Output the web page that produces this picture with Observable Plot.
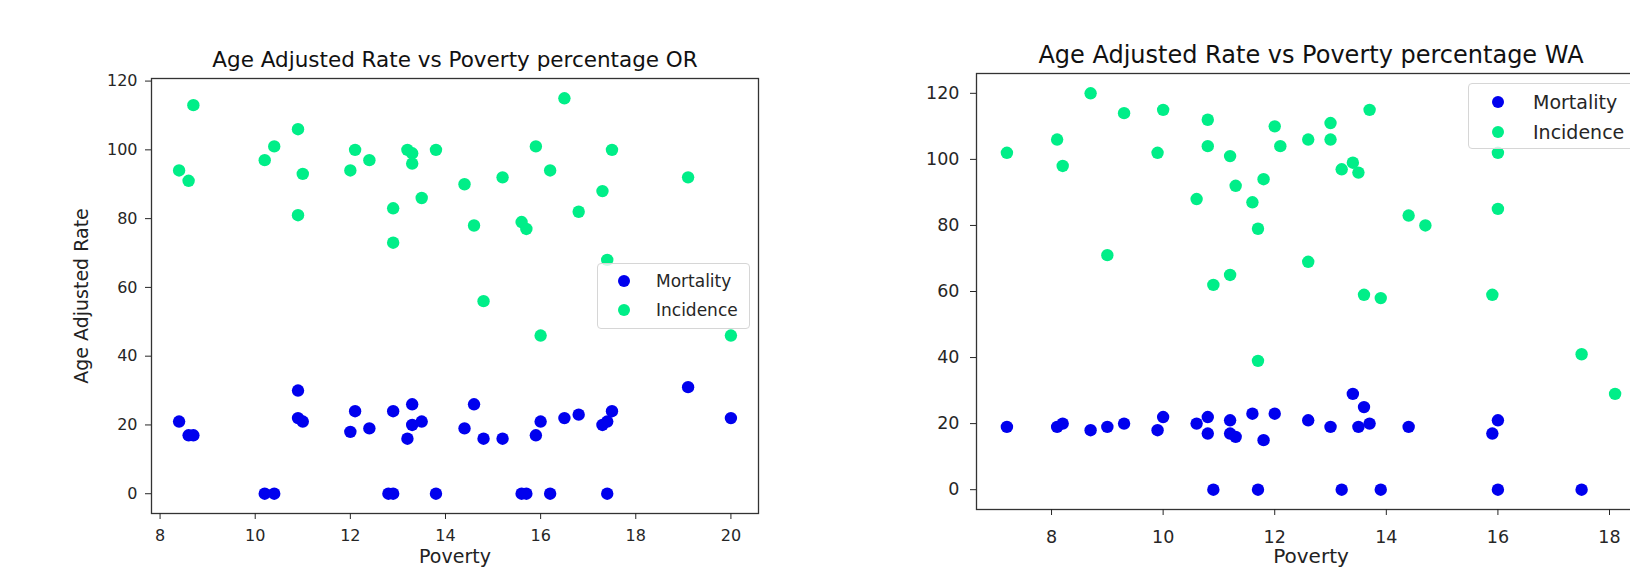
<!DOCTYPE html>
<html><head><meta charset="utf-8">
<script src="https://cdn.jsdelivr.net/npm/d3@7"></script>
<script src="https://cdn.jsdelivr.net/npm/@observablehq/plot@0.6"></script>
<style>
html,body{margin:0;padding:0;background:#fff;overflow:hidden;width:1630px;height:568px;}
#wrap{position:relative;width:1700px;height:568px;overflow:hidden;}
.panel{position:absolute;top:0;}
.legend{position:absolute;border:1px solid #d6d6d6;border-radius:4px;background:rgba(255,255,255,0.8);font-family:"DejaVu Sans",sans-serif;color:#262626;box-sizing:border-box;}
.legend .lab{position:absolute;white-space:nowrap;line-height:1;transform:translateY(-50%);}
.legend .sw{position:absolute;border-radius:50%;transform:translate(-50%,-50%);}
</style></head>
<body><div id="wrap"></div>
<script>
// ---------- data ----------
const seriesNames = ["Mortality", "Incidence"];
const seriesColors = ["#0000ee", "#00ee88"];

// Oregon
const orMortX = [8.4,8.6,8.7,10.2,10.4,10.9,10.9,11.0,12.0,12.1,12.4,12.8,12.9,12.9,13.2,13.3,13.3,13.5,13.8,14.4,14.6,14.8,15.2,15.6,15.7,15.9,16.0,16.2,16.5,16.8,17.3,17.4,17.5,17.4,19.1,20.0];
const orMortY = [21,17,17,0,0,30,22,21,18,24,19,0,0,24,16,26,20,21,0,19,26,16,16,0,0,17,21,0,22,23,20,21,24,0,31,22];
const orIncX = [8.4,8.6,8.7,10.2,10.4,10.9,10.9,11.0,12.0,12.1,12.4,12.9,12.9,13.2,13.3,13.3,13.5,13.8,14.4,14.6,14.8,15.2,15.6,15.7,15.9,16.0,16.2,16.5,16.8,17.3,17.4,17.5,19.1,20.0];
const orIncY = [94,91,113,97,101,106,81,93,94,100,97,83,73,100,99,96,86,100,90,78,56,92,79,77,101,46,94,115,82,88,68,100,92,46];

// Washington
const waMortX = [7.2,8.1,8.2,8.7,9.0,9.3,9.9,10.0,10.6,10.8,10.8,10.9,11.2,11.2,11.3,11.6,11.7,11.8,12.0,12.6,13.0,13.2,13.4,13.5,13.6,13.7,13.9,14.4,15.9,16.0,16.0,17.5];
const waMortY = [19,19,20,18,19,20,18,22,20,22,17,0,21,17,16,23,0,15,23,21,19,0,29,19,25,20,0,19,17,21,0,0];
const waIncX = [7.2,8.1,8.2,8.7,9.0,9.3,9.9,10.0,10.6,10.8,10.8,10.9,11.2,11.2,11.3,11.6,11.7,11.7,11.8,12.0,12.1,12.6,12.6,13.0,13.0,13.2,13.4,13.5,13.6,13.7,13.9,14.4,14.7,15.9,16.0,16.0,17.5,18.1];
const waIncY = [102,106,98,120,71,114,102,115,88,112,104,62,101,65,92,87,79,39,94,110,104,106,69,111,106,97,99,96,59,115,58,83,80,59,102,85,41,29];

const orXTicks = [8,10,12,14,16,18,20];
const waXTicks = [8,10,12,14,16,18];
const yTicks = [0,20,40,60,80,100,120];

const titles = ["Age Adjusted Rate vs Poverty percentage OR", "Age Adjusted Rate vs Poverty percentage WA"];
const xLabel = "Poverty";
const yLabel = "Age Adjusted Rate";

// ---------- build ----------
const zip = (xs, ys) => xs.map((x, i) => ({x, y: ys[i]}));

function panel(o) {
  const marks = [
    Plot.dot(zip(o.mx, o.my), {x: "x", y: "y", r: 6.2, fill: seriesColors[0]}),
    Plot.dot(zip(o.ix, o.iy), {x: "x", y: "y", r: 6.2, fill: seriesColors[1]}),
    Plot.frame({stroke: "#333", strokeWidth: 1.3}),
    Plot.axisX({ticks: o.xTicks, tickSize: 6, tickPadding: o.xPad, label: null, fontSize: o.tickFont, tickFormat: d => String(d)}),
    Plot.axisY({ticks: yTicks, tickSize: 6, tickPadding: o.yPad, label: null, fontSize: o.tickFont, tickFormat: d => String(d)}),
    Plot.text([o.title], {frameAnchor: "top", lineAnchor: "bottom", dy: o.titleDy, fontSize: o.titleFont, text: d => d, fill: "#111"}),
    Plot.text([xLabel], {frameAnchor: "bottom", lineAnchor: "top", dy: o.xlabDy, fontSize: o.labFont, text: d => d, fill: "#222"})
  ];
  if (o.ylab) marks.push(Plot.text([o.ylab], {frameAnchor: "left", textAnchor: "middle", lineAnchor: "middle", rotate: -90, dx: o.ylabDx, fontSize: o.labFont, text: d => d, fill: "#222"}));
  return Plot.plot({
    width: o.width, height: 568,
    marginLeft: o.ml, marginRight: o.mr, marginTop: o.mt, marginBottom: o.mb,
    x: {domain: o.xDomain},
    y: {domain: o.yDomain},
    style: {fontFamily: "DejaVu Sans", color: "#262626", background: "transparent", overflow: "visible", maxWidth: "none"},
    marks
  });
}

function legend(o) {
  const box = document.createElement("div");
  box.className = "legend";
  Object.assign(box.style, {left: o.left + "px", top: o.top + "px", width: o.w + "px", height: o.h + "px", fontSize: o.font + "px"});
  seriesNames.forEach((name, i) => {
    const sw = document.createElement("div");
    sw.className = "sw";
    Object.assign(sw.style, {left: o.mx + "px", top: o.rows[i] + "px", width: o.d + "px", height: o.d + "px", background: seriesColors[i]});
    const t = document.createElement("div");
    t.className = "lab";
    t.textContent = name;
    Object.assign(t.style, {left: o.tx + "px", top: o.rows[i] + "px"});
    box.append(sw, t);
  });
  return box;
}

const wrap = document.getElementById("wrap");

const p1 = document.createElement("div");
p1.className = "panel"; p1.style.left = "0px";
p1.append(panel({
  mx: orMortX, my: orMortY, ix: orIncX, iy: orIncY,
  xDomain: [7.82, 20.58], yDomain: [-5.75, 120.75], xTicks: orXTicks,
  width: 800, ml: 151, mr: 42, mt: 78, mb: 55,
  tickFont: 16, titleFont: 21.5, labFont: 19, xPad: 10, yPad: 8,
  title: titles[0], titleDy: -12, xlabDy: 36, ylab: yLabel, ylabDx: -70
}));
wrap.append(p1);

const p2 = document.createElement("div");
p2.className = "panel"; p2.style.left = "880px";
p2.append(panel({
  mx: waMortX, my: waMortY, ix: waIncX, iy: waIncY,
  xDomain: [6.655, 18.645], yDomain: [-6, 126], xTicks: waXTicks,
  width: 800, ml: 96, mr: 35, mt: 73, mb: 59,
  tickFont: 17.5, titleFont: 24, labFont: 20, xPad: 15, yPad: 11,
  title: titles[1], titleDy: -11, xlabDy: 39, ylab: null
}));
wrap.append(p2);

wrap.append(legend({left: 597, top: 263, w: 153, h: 66, font: 17, mx: 26, tx: 58, rows: [17, 46], d: 12}));
wrap.append(legend({left: 1468, top: 83, w: 170, h: 66, font: 19, mx: 29, tx: 64, rows: [18, 48], d: 12}));
</script>
</body></html>
